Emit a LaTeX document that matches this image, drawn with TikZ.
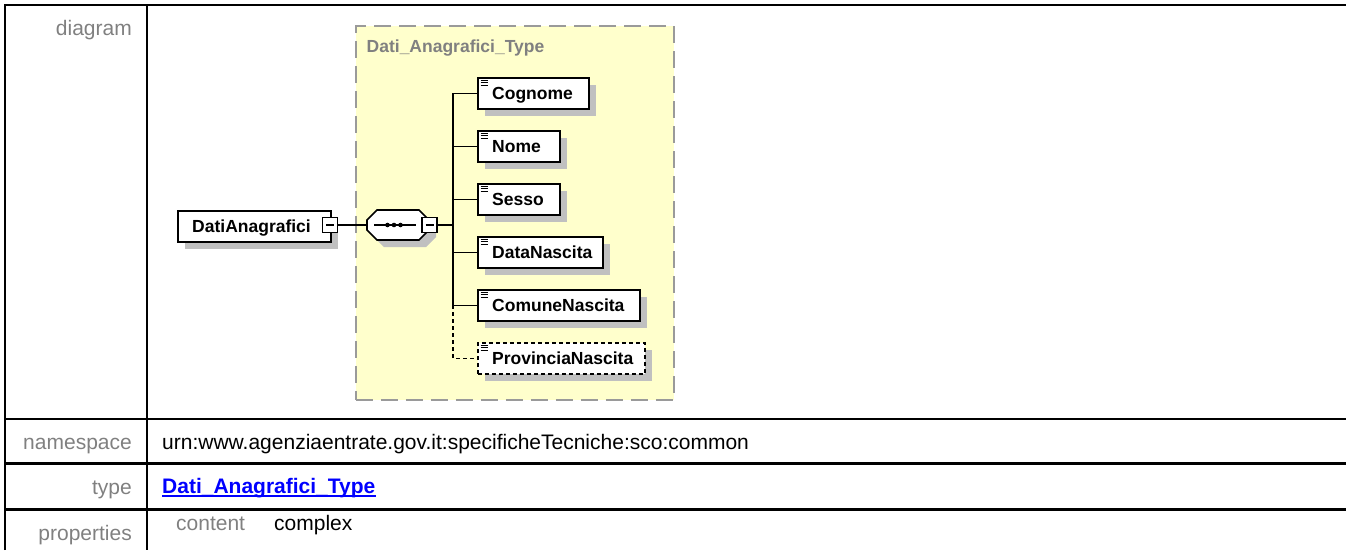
\documentclass[tikz,border=0pt]{standalone}
\usepackage{fontspec}
\setmainfont{Liberation Sans}
\usetikzlibrary{shadows}
\definecolor{ylw}{HTML}{FFFFCC}
\definecolor{ygray}{HTML}{9A9A9A}
\definecolor{shd}{HTML}{C0C0C0}
\definecolor{lblgray}{HTML}{808080}
\definecolor{lnkblue}{HTML}{0000FF}
\tikzset{
  tline/.style={line width=2.5pt, black},
  cbox/.style={rectangle, anchor=north west, inner sep=0pt, fill=ylw, draw=ygray, line width=1.8pt, dash pattern=on 17pt off 8pt},
  ttl/.style={anchor=base west, inner sep=0pt, text=lblgray, font=\fontsize{17.5pt}{20pt}\selectfont\bfseries},
  elbox/.style={rectangle, draw=black, line width=1.6pt, fill=white, inner sep=0pt, anchor=north west, minimum height=31pt,
    drop shadow={shadow xshift=7pt, shadow yshift=-7pt, fill=shd, opacity=1}},
  optbox/.style={elbox, dash pattern=on 4pt off 3pt},
  eltext/.style={anchor=base west, inner sep=0pt, text=black, font=\fontsize{17.5pt}{20pt}\selectfont\bfseries},
  minus/.style={rectangle, draw=black, line width=1.4pt, fill=white, inner sep=0pt, minimum size=15pt},
  mline/.style={line width=1.4pt, black},
  conn/.style={line width=1.6pt, black},
  optconn/.style={conn, dash pattern=on 4pt off 3pt},
  octline/.style={line width=1.6pt, black, fill=white},
  tlabel/.style={anchor=base east, inner sep=0pt, text=lblgray, font=\fontsize{21pt}{24pt}\selectfont},
  tval/.style={anchor=base west, inner sep=0pt, text=black, font=\fontsize{21pt}{24pt}\selectfont},
  tsub/.style={anchor=base west, inner sep=0pt, text=lblgray, font=\fontsize{21pt}{24pt}\selectfont},
  tlink/.style={anchor=base west, inner sep=0pt, text=lnkblue, font=\fontsize{21pt}{24pt}\selectfont\bfseries},
}
\newcommand\elicon[1]{\draw[line width=1pt, black]
  ([shift={(3.5,3)}]#1.north west) -- ++(7,0)
  ([shift={(3.5,5.5)}]#1.north west) -- ++(7,0)
  ([shift={(3.5,8)}]#1.north west) -- ++(7,0);}
\begin{document}
\begin{tikzpicture}[x=1pt,y=-1pt]
\useasboundingbox (0,0) rectangle (1346,550);
% table grid
\draw[tline] (5,550) -- (5,5) -- (1346,5);
\draw[tline] (147,5) -- (147,550);
\draw[tline] (5,419) -- (1346,419);
\draw[tline] (5,463.5) -- (1346,463.5);
\draw[tline] (5,509.5) -- (1346,509.5);
% table texts
\node[tlabel] (l1) at (132,35) {diagram};
\node[tlabel] (l2) at (132,449) {namespace};
\node[tval] (v2) at (162,449) {urn:www.agenziaentrate.gov.it:specificheTecniche:sco:common};
\node[tlabel] (l3) at (132,494) {type};
\node[tlink] (v3) at (162,493) {Dati\_Anagrafici\_Type};
\draw[lnkblue, line width=1.8pt] ([yshift=-3pt]v3.base west) -- ([yshift=-3pt]v3.base east);
\node[tlabel] (l4) at (132,540) {properties};
\node[tsub] (p1) at (176,530) {content};
\node[tval] (p2) at (274,530) {complex};
% complex type box
\node[cbox, minimum width=318pt, minimum height=374pt] (cx) at (355,25) {};
\node[ttl] (cxt) at (366.5,52) {Dati\_Anagrafici\_Type};
% root element
\node[elbox, minimum width=153pt] (da) at (177,210) {};
\node[eltext] (dat) at ([xshift=15pt,yshift=-6.5pt]da.west) {DatiAnagrafici};
\node[minus] (dam) at (330,225) {};
\draw[mline] ([xshift=-4pt]dam.center) -- ([xshift=4pt]dam.center);
% sequence compositor
\node[inner sep=0pt, minimum width=62pt, minimum height=30pt] (seq) at (398,225) {};
\begin{scope}[shift={(7,7)}]
\fill[shd] (367,220) -- (377,210) -- (419,210) -- (429,220) -- (429,230) -- (419,240) -- (377,240) -- (367,230) -- cycle;
\end{scope}
\draw[octline] (367,220) -- (377,210) -- (419,210) -- (429,220) -- (429,230) -- (419,240) -- (377,240) -- (367,230) -- cycle;
\draw[line width=1.5pt] (374,225) -- (416,225);
\fill (387.5,225) circle (2.3);
\fill (394,225) circle (2.3);
\fill (400.5,225) circle (2.3);
\node[minus] (sqm) at (429.5,225) {};
\draw[mline] ([xshift=-4pt]sqm.center) -- ([xshift=4pt]sqm.center);
\coordinate (trunk) at (453,225);
\draw[conn] (dam.east) -- (seq.west);
\draw[conn] (sqm.east) -- (trunk);
% children
\node[elbox, minimum width=111pt] (cog) at (477,77) {};
\node[eltext] (cogt) at ([xshift=15pt,yshift=-6.5pt]cog.west) {Cognome};
\elicon{cog}
\node[elbox, minimum width=82pt] (nom) at (477,130) {};
\node[eltext] (nomt) at ([xshift=15pt,yshift=-6.5pt]nom.west) {Nome};
\elicon{nom}
\node[elbox, minimum width=82pt] (ses) at (477,183) {};
\node[eltext] (sest) at ([xshift=15pt,yshift=-6.5pt]ses.west) {Sesso};
\elicon{ses}
\node[elbox, minimum width=125pt] (dan) at (477,236) {};
\node[eltext] (dant) at ([xshift=15pt,yshift=-6.5pt]dan.west) {DataNascita};
\elicon{dan}
\node[elbox, minimum width=162pt] (com) at (477,289) {};
\node[eltext] (comt) at ([xshift=15pt,yshift=-6.5pt]com.west) {ComuneNascita};
\elicon{com}
\node[optbox, minimum width=167pt] (pro) at (477,342) {};
\node[eltext] (prot) at ([xshift=15pt,yshift=-6.5pt]pro.west) {ProvinciaNascita};
\elicon{pro}
% connectors
\draw[conn] (cog.west -| trunk) -- (com.west -| trunk);
\draw[conn] (cog.west -| trunk) -- (cog.west);
\draw[conn] (nom.west -| trunk) -- (nom.west);
\draw[conn] (ses.west -| trunk) -- (ses.west);
\draw[conn] (dan.west -| trunk) -- (dan.west);
\draw[conn] (com.west -| trunk) -- (com.west);
\draw[optconn] (com.west -| trunk) |- (pro.west);
\end{tikzpicture}
\end{document}
